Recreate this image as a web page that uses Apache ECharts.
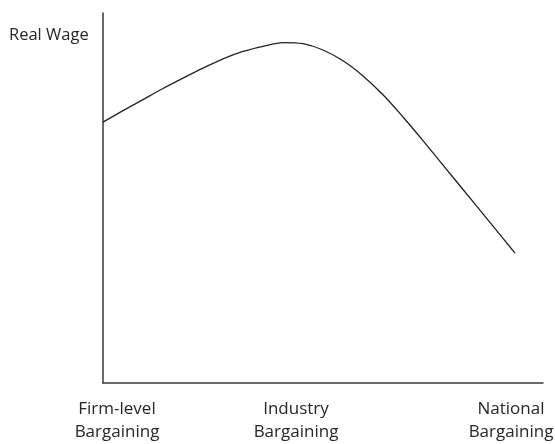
<!DOCTYPE html>
<html>
<head>
<meta charset="utf-8">
<script src="https://cdn.jsdelivr.net/npm/echarts@6/dist/echarts.min.js"></script>
<style>
html,body{margin:0;padding:0;background:#fff;}
#chart{width:555px;height:444px;}
</style>
</head>
<body>
<div id="chart"></div>
<script>
// Degree of bargaining centralisation (axis runs 0..110)
var xValues = [0, 5, 10, 15, 20, 25, 30, 35, 40, 45, 50, 55, 60, 65, 70, 75, 80, 85, 90, 95, 100, 103];
// Real wage (arbitrary units, 0..100)
var wageValues = [70.5, 73.6, 76.6, 79.6, 82.4, 85.1, 87.6, 89.6, 91.0, 92.0, 91.7, 90.0, 87.1, 83.0, 77.9, 71.9, 65.5, 58.9, 52.3, 45.7, 39.1, 35.1];
var yAxisTitle = 'Real Wage';
var categoryLabels = ['Firm-level\nBargaining', 'Industry\nBargaining', 'National\nBargaining'];
var categoryPositions = [3.5, 48.25, 102];

var chart = echarts.init(document.getElementById('chart'));
var lineData = xValues.map(function (x, i) { return [x, wageValues[i]]; });
var font = '"Open Sans", sans-serif';
chart.setOption({
  animation: false,
  grid: {left: 103, top: 13, right: 12, bottom: 61},
  xAxis: {
    type: 'value', min: 0, max: 110,
    axisLine: {show: true, lineStyle: {color: '#3a3a3a', width: 1.5}},
    axisTick: {show: false}, axisLabel: {show: false}, splitLine: {show: false}
  },
  yAxis: {
    type: 'value', min: 0, max: 100,
    axisLine: {show: true, lineStyle: {color: '#3a3a3a', width: 1.5}},
    axisTick: {show: false}, axisLabel: {show: false}, splitLine: {show: false}
  },
  series: [{
    type: 'line', data: lineData, smooth: 0.3, symbol: 'none',
    lineStyle: {color: '#222', width: 1.3}
  }]
});

var graphics = [{
  type: 'text', left: 9, top: 27,
  style: {text: yAxisTitle, font: '16.5px ' + font, fill: '#262626'}
}];
categoryLabels.forEach(function (t, i) {
  var px = chart.convertToPixel({gridIndex: 0}, [categoryPositions[i], 0]);
  graphics.push({
    type: 'text', x: px[0], y: 398,
    style: {text: t, font: '17px ' + font, fill: '#262626', textAlign: 'center', lineHeight: 23}
  });
});
chart.setOption({graphic: graphics});
</script>
</body>
</html>
